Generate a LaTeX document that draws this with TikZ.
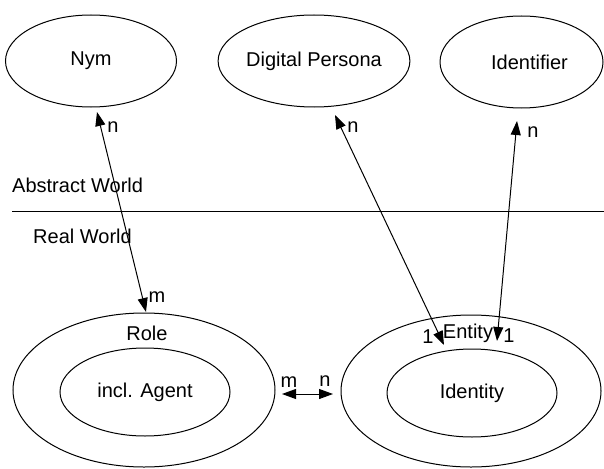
\documentclass[tikz,border=0pt]{standalone}
\usepackage{fontspec}
\setmainfont{Liberation Sans}
\usetikzlibrary{shapes.geometric,arrows.meta}
\begin{document}
\begin{tikzpicture}[x=1pt,y=-1pt,
  every node/.style={font=\fontsize{20}{24}\selectfont},
  ell/.style={draw,ellipse,line width=1pt,inner sep=0pt},
  lbl/.style={inner sep=0pt},
  rel/.style={line width=1pt,{Triangle[length=14pt,width=10pt]}-{Triangle[length=14pt,width=10pt]}}
]
\useasboundingbox (0,0) rectangle (604,468);
% top ellipses
\node[ell,minimum width=171pt,minimum height=92pt] (nym) at (91,61) {Nym};
\node[ell,minimum width=166pt,minimum height=92pt] (dp) at (314,61) {Digital Persona};
\node[ell,minimum width=163pt,minimum height=92pt] (ident) at (521.5,62) {\hspace{16pt}Identifier};
% bottom ellipses
\node[ell,minimum width=262pt,minimum height=154pt] (role) at (144,390) {};
\node[ell,minimum width=170pt,minimum height=88pt] (agent) at (145,392) {incl. Agent};
\node[ell,minimum width=260pt,minimum height=152pt] (entity) at (471,391) {};
\node[ell,minimum width=170pt,minimum height=88pt] (identity) at (472,393) {Identity};
\node[lbl] (rolet) at (147,333) {Role};
\node[lbl] (entityt) at (468,333) {Entity};
% world divider
\coordinate (lineL) at (12,211);
\coordinate (lineR) at (604,211);
\draw[line width=1pt] (lineL) -- (lineR);
\node[lbl,anchor=west] (abs) at (12,185) {Abstract World};
\node[lbl,anchor=west] (real) at (33,236) {Real World};
% connector end points
\coordinate (nymE) at (97,112);
\coordinate (roleE) at (146,312);
\coordinate (dpE) at (335,115);
\coordinate (entE1) at (444,345);
\coordinate (idE) at (517,121);
\coordinate (entE2) at (497,341);
\coordinate (roleR) at (282,394);
\coordinate (entL) at (333,394);
\draw[rel] (nymE) -- (roleE);
\draw[rel] (dpE) -- (entE1);
\draw[rel] (idE) -- (entE2);
\draw[rel] (roleR) -- (entL);
% cardinalities
\node[lbl] (n1) at (113,127) {n};
\node[lbl] (n2) at (353,127) {n};
\node[lbl] (n3) at (533,132) {n};
\node[lbl] (m1) at (157,297) {m};
\node[lbl] (one1) at (428,337) {1};
\node[lbl] (one2) at (509,336) {1};
\node[lbl] (m2) at (289,382) {m};
\node[lbl] (n4) at (325,381) {n};
\end{tikzpicture}
\end{document}
